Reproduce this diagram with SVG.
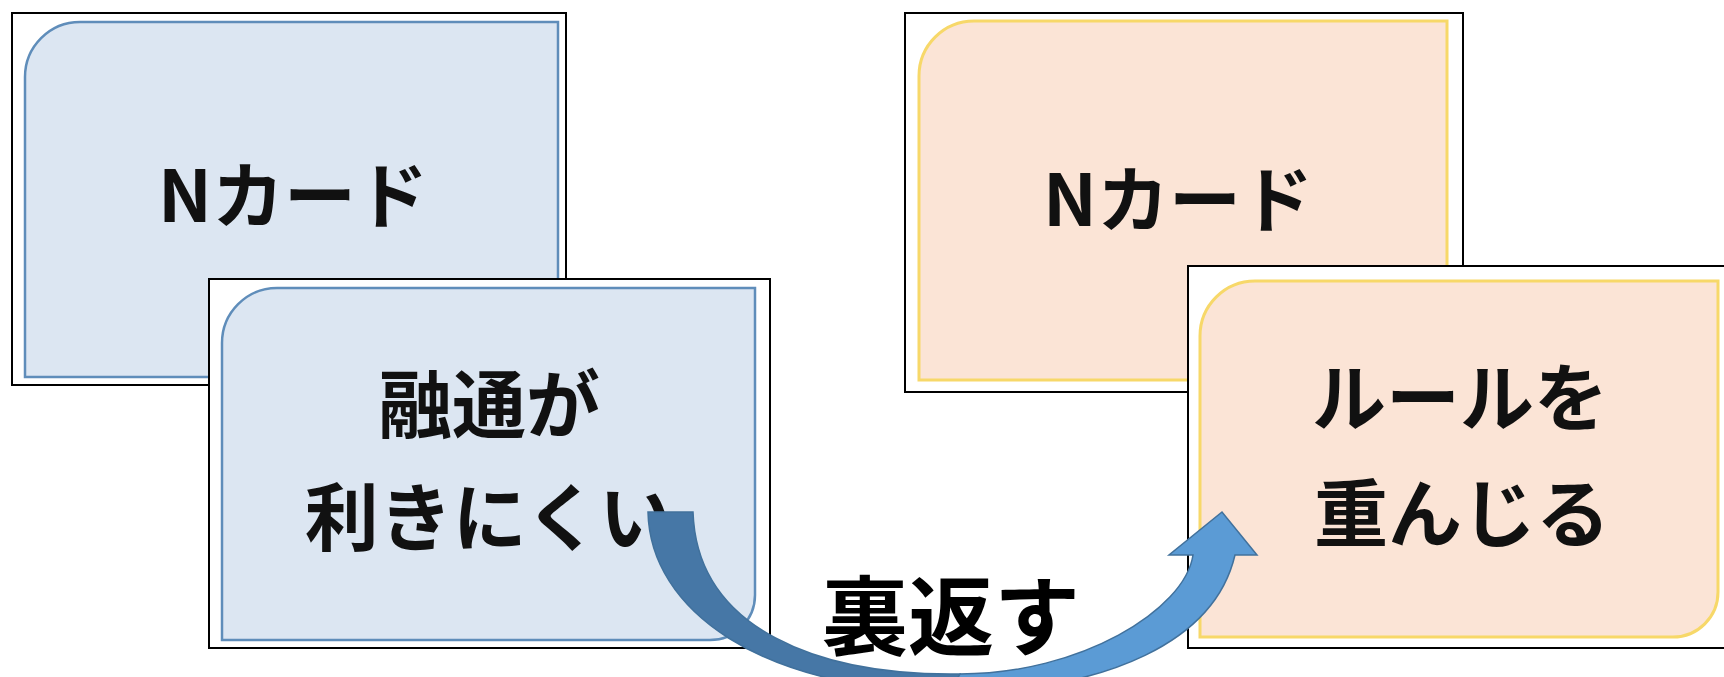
<svg xmlns="http://www.w3.org/2000/svg" width="1724" height="677" viewBox="0 0 1724 677">
  <style>
    .frame { fill: #ffffff; stroke: #000000; stroke-width: 2; }
    .blue { fill: #DCE6F2; stroke: #5F8DBA; stroke-width: 2.5; }
    .orange { fill: #FBE4D6; stroke: #F7D869; stroke-width: 3; }
    .label { font-family: "Noto Sans CJK JP", "Noto Sans", sans-serif; font-weight: 700; fill: #111111; text-anchor: middle; }
    .big { font-family: "Noto Sans CJK JP", "Noto Sans", sans-serif; font-weight: 700; fill: #000000; text-anchor: middle; }
  </style>
  <rect width="1724" height="677" fill="#ffffff"/>
  <g id="card-blue-back">
    <rect class="frame" x="12" y="13" width="554" height="372"/>
    <path class="blue" d="M80,22 H558 V332 A45,45 0 0 1 513,377 H25 V77 A55,55 0 0 1 80,22 Z"/>
    <text class="label" x="293" y="222" font-size="72">Nカード</text>
  </g>
  <g id="card-orange-back">
    <rect class="frame" x="905" y="13" width="558" height="379"/>
    <path class="orange" d="M974,21 H1447 V335 A45,45 0 0 1 1402,380 H919 V76 A55,55 0 0 1 974,21 Z"/>
    <text class="label" x="1178" y="226" font-size="72">Nカード</text>
  </g>
  <g id="card-blue-front">
    <rect class="frame" x="209" y="279" width="561" height="369"/>
    <path class="blue" d="M277,288 H755 V595 A45,45 0 0 1 710,640 H222 V343 A55,55 0 0 1 277,288 Z"/>
    <text class="label" x="489" y="432" font-size="74">融通が</text>
    <text class="label" x="489" y="545" font-size="74">利きにくい</text>
  </g>
  <g id="card-orange-front">
    <rect class="frame" x="1188" y="266" width="545" height="382"/>
    <path class="orange" d="M1255,281 H1718 V592 A45,45 0 0 1 1673,637 H1200 V336 A55,55 0 0 1 1255,281 Z"/>
    <text class="label" x="1460" y="425" font-size="74">ルールを</text>
    <text class="label" x="1462" y="541" font-size="74">重んじる</text>
  </g>
  <g id="connectors">
    <path d="M648,512 C650,610 760,690 950,692 L960,674 C820,676 697,630 693,512 Z" fill="#4677A6" stroke="#41719C" stroke-width="1.5"/>
    <path d="M950,692 C1110,692 1215,640 1235,555 L1257,555 L1222,512 L1169,555 L1193,555 C1185,610 1080,674 960,674 Z" fill="#5B9BD5" stroke="#41719C" stroke-width="1.5" stroke-linejoin="miter"/>
  </g>
  <g id="label-flip">
    <text class="big" x="951" y="649" font-size="86">裏返す</text>
  </g>
</svg>
